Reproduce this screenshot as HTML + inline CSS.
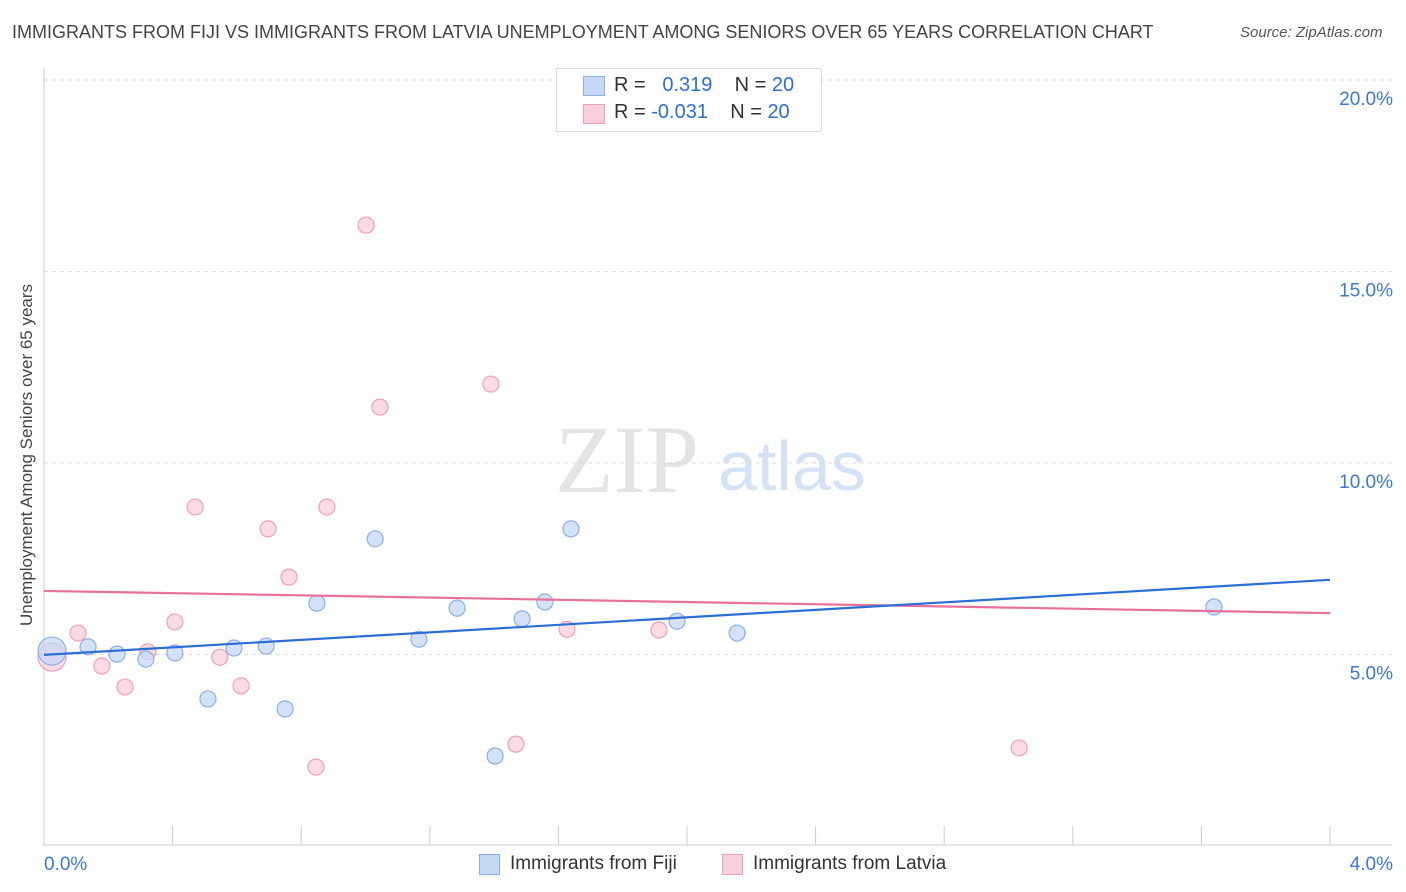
<!DOCTYPE html>
<html><head><meta charset="utf-8"><style>
body{margin:0;background:#fff;font-family:"Liberation Sans",sans-serif;}
#wrap{position:relative;width:1406px;height:892px;overflow:hidden}
.t{position:absolute;white-space:nowrap}
</style></head><body>
<div id="wrap">
<div class="t" style="left:12px;top:22px;font-size:18px;color:#444">IMMIGRANTS FROM FIJI VS IMMIGRANTS FROM LATVIA UNEMPLOYMENT AMONG SENIORS OVER 65 YEARS CORRELATION CHART</div>
<div class="t" style="left:1240px;top:24px;font-size:15px;color:#555;font-style:italic">Source: ZipAtlas.com</div>
<div class="t" style="left:27px;top:455px;font-size:17px;color:#444;transform:translate(-50%,-50%) rotate(-90deg)">Unemployment Among Seniors over 65 years</div>
<svg id="svg" width="1406" height="892" style="position:absolute;left:0;top:0"></svg>
<div style="position:absolute;left:556px;top:68px;width:264px;height:62px;border:1px solid #ddd;background:#fff"></div>
<div style="position:absolute;left:583px;top:76px;width:20px;height:18px;background:#c5d8f5;border:1px solid #8ab0e8"></div>
<div style="position:absolute;left:583px;top:104px;width:20px;height:18px;background:#f9cfdb;border:1px solid #f0a0b8"></div>
<div class="t" style="left:614px;top:74px;font-size:20px;color:#333">R = &nbsp;&nbsp;<span style="color:#2b6fd6">0.319</span>&nbsp;&nbsp;&nbsp; N = <span style="color:#2b6fd6">20</span></div>
<div class="t" style="left:614px;top:101px;font-size:20px;color:#333">R = <span style="color:#2b6fd6">-0.031</span>&nbsp;&nbsp;&nbsp; N = <span style="color:#2b6fd6">20</span></div>
<div style="position:absolute;left:479px;top:854px;width:19px;height:19px;background:#c5d8f5;border:1px solid #8ab0e8"></div>
<div class="t" style="left:510px;top:853px;font-size:19px;color:#333">Immigrants from Fiji</div>
<div style="position:absolute;left:722px;top:854px;width:19px;height:19px;background:#f9cfdb;border:1px solid #f0a0b8"></div>
<div class="t" style="left:753px;top:853px;font-size:19px;color:#333">Immigrants from Latvia</div>
</div>
<script>
const yTicks=[5,10,15,20];
const yTickLabels=["5.0%","10.0%","15.0%","20.0%"];
const xTickLabels=["0.0%","4.0%"];
const fijiX=[0.025,0.137,0.227,0.317,0.407,0.510,0.591,0.691,0.750,0.849,1.030,1.166,1.285,1.403,1.487,1.558,1.639,1.969,2.156,3.639];
const fijiY=[5.09,5.20,5.01,4.88,5.04,3.84,5.17,5.22,3.58,6.34,8.02,5.40,6.21,2.35,5.93,6.37,8.28,5.87,5.56,6.24];
const latX=[0.025,0.106,0.180,0.252,0.323,0.407,0.470,0.547,0.613,0.697,0.762,0.846,0.880,1.002,1.045,1.390,1.468,1.627,1.913,3.033];
const latY=[4.93,5.56,4.70,4.15,5.07,5.85,8.85,4.93,4.18,8.28,7.02,2.06,8.85,16.21,11.46,12.06,2.66,5.66,5.64,2.56];
const fijiTrend=[4.99,6.95];
const latTrend=[6.66,6.08];
const X=v=>44+v*321.5, Y=v=>846-v*38.3;
const svg=document.getElementById('svg'),NS="http://www.w3.org/2000/svg";
function mk(t,a){const e=document.createElementNS(NS,t);for(const k in a)e.setAttribute(k,a[k]);svg.appendChild(e);return e;}
let e;
e=mk('text',{x:555,y:492,'font-size':96,fill:'#e4e4e4','font-family':'Liberation Serif'});e.textContent='ZIP';


e=mk('text',{x:718,y:490,'font-size':70,fill:'#d4e2f5','font-family':'Liberation Sans'});e.textContent='atlas';


yTicks.forEach((v,i)=>{
 e=mk('line',{x1:44,x2:1392,y1:Y(v),y2:Y(v),stroke:'#ddd','stroke-dasharray':'4,4'});
 
 
 e=mk('text',{x:1393,y:Y(v)+25,'text-anchor':'end','font-size':19,fill:'#3b78d8'});e.textContent=yTickLabels[i];
 
 
});
e=mk('line',{x1:44,x2:44,y1:68,y2:846,stroke:'#ccc'});


e=mk('line',{x1:44,x2:1392,y1:845,y2:845,stroke:'#ccc'});


for(let i=0;i<=10;i++){e=mk('line',{x1:X(i*0.4),x2:X(i*0.4),y1:826,y2:845,stroke:'#ccc'});
 
 }
e=mk('text',{x:44,y:870,'font-size':19,fill:'#3b78d8'});e.textContent=xTickLabels[0];


e=mk('text',{x:1393,y:870,'text-anchor':'end','font-size':19,fill:'#3b78d8'});e.textContent=xTickLabels[1];


function pts(xs,ys,fill,stroke,name){xs.forEach((x,i)=>{
 e=mk('circle',{cx:X(x),cy:Y(ys[i]),r:i==0?14:8,fill:fill,'fill-opacity':0.75,stroke:stroke,'stroke-width':1.2});
 
 });}
pts(latX,latY,'#f9cfdb','#f0a0b8','latvia-point');
pts(fijiX,fijiY,'#c5d8f5','#8ab0e8','fiji-point');
e=mk('line',{x1:X(0),x2:X(4),y1:Y(latTrend[0]),y2:Y(latTrend[1]),stroke:'#e8709a','stroke-width':2.2});


e=mk('line',{x1:X(0),x2:X(4),y1:Y(fijiTrend[0]),y2:Y(fijiTrend[1]),stroke:'#2b6fd6','stroke-width':2.2});


</script>
</body></html>
